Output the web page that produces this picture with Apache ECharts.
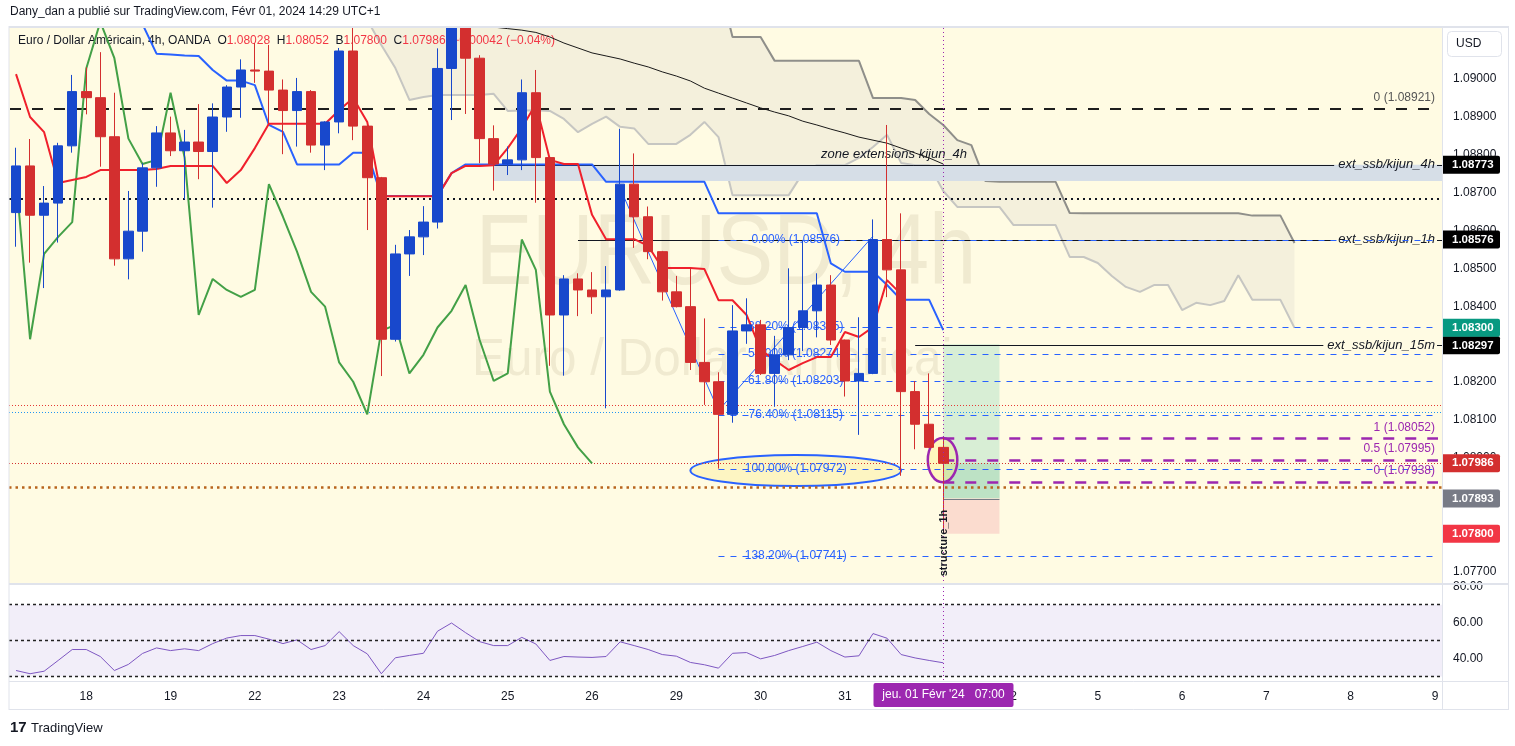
<!DOCTYPE html>
<html><head><meta charset="utf-8">
<script src="https://cdn.jsdelivr.net/npm/echarts@6/dist/echarts.min.js"></script>
<style>html,body{margin:0;padding:0;background:#ffffff;}#c{width:1515px;height:746px;}</style>
</head><body><div id="c"></div>
<script>
// ---------------- DATA ----------------
const barCount = 102;
const dayLabels = ['18','19','22','23','24','25','26','29','30','31','Févr','2','5','6','7','8','9'];
const dayStarts = [5,11,17,23,29,35,41,47,53,59,65,71,77,83,89,95,101];

const opens = [1.08647,1.08770,1.08640,1.08672,1.08823,1.08966,1.08950,1.08847,1.08525,1.08598,
 1.08765,1.08857,1.08810,1.08833,1.08808,1.08899,1.08978,1.09023,1.09020,1.08970,
 1.08916,1.08966,1.08825,1.08886,1.09073,1.08875,1.08739,1.08313,1.08538,1.08583,
 1.08622,1.09027,1.09150,1.09054,1.08842,1.08775,1.08786,1.08963,1.08792,1.08377,
 1.08472,1.08443,1.08425,1.08443,1.08722,1.08636,1.08544,1.08438,1.08399,1.08252,
 1.08201,1.08115,1.08335,1.08351,1.08223,1.08272,1.08344,1.08388,1.08456,1.08311,
 1.08203,1.08223,1.08576,1.08496,1.08175,1.08089,1.08028];
const closes = [1.08770,1.08640,1.08672,1.08823,1.08966,1.08950,1.08847,1.08525,1.08598,1.08765,
 1.08857,1.08810,1.08833,1.08808,1.08899,1.08978,1.09023,1.09020,1.08970,1.08916,
 1.08966,1.08825,1.08886,1.09073,1.08875,1.08739,1.08313,1.08538,1.08583,1.08622,
 1.09027,1.09150,1.09054,1.08842,1.08775,1.08786,1.08963,1.08792,1.08377,1.08472,
 1.08443,1.08425,1.08443,1.08722,1.08636,1.08544,1.08438,1.08399,1.08252,1.08201,
 1.08115,1.08335,1.08351,1.08223,1.08272,1.08344,1.08388,1.08456,1.08311,1.08203,
 1.08223,1.08576,1.08496,1.08175,1.08089,1.08028,1.07986];
const highs = [1.08818,1.08841,1.08717,1.08831,1.09010,1.09030,1.09070,1.08963,1.08704,1.08777,
 1.08875,1.08900,1.08865,1.08933,1.08935,1.08983,1.09051,1.09094,1.09089,1.08998,
 1.09002,1.08970,1.08888,1.09081,1.09140,1.08878,1.08741,1.08562,1.08601,1.08664,
 1.09080,1.09168,1.09168,1.09062,1.08877,1.08821,1.08998,1.09023,1.08793,1.08482,
 1.08487,1.08490,1.08506,1.08868,1.08803,1.08663,1.08546,1.08480,1.08500,1.08368,
 1.08226,1.08403,1.08421,1.08364,1.08322,1.08500,1.08575,1.08487,1.08482,1.08312,
 1.08371,1.08629,1.08878,1.08645,1.08203,1.08223,1.08052];
const lows = [1.08557,1.08515,1.08448,1.08568,1.08805,1.08906,1.08768,1.08507,1.08471,1.08544,
 1.08715,1.08796,1.08682,1.08735,1.08660,1.08860,1.08897,1.08989,1.08883,1.08801,
 1.08821,1.08805,1.08759,1.08856,1.08838,1.08601,1.08216,1.08307,1.08480,1.08535,
 1.08605,1.08891,1.08907,1.08777,1.08705,1.08746,1.08759,1.08673,1.08243,1.08217,
 1.08374,1.08380,1.08131,1.08441,1.08554,1.08524,1.08415,1.08397,1.08232,1.08140,
 1.07972,1.08093,1.08301,1.08219,1.08135,1.08258,1.08282,1.08318,1.08298,1.08162,
 1.08061,1.08221,1.08424,1.07953,1.08023,1.08026,1.07800];

// Ichimoku lines
const tenkan = [1.09012,1.08899,1.08859,1.08725,1.08733,1.08741,1.08759,1.08759,1.08759,1.08759,
 1.08762,1.08770,1.08770,1.08770,1.08770,1.08725,1.08759,1.08817,1.08881,1.08881,
 1.08881,1.08881,1.08881,1.08917,1.08949,1.08886,1.08690,1.08690,1.08690,1.08690,
 1.08690,1.08751,1.08770,1.08770,1.08772,1.08817,1.08870,1.08933,1.08786,1.08775,
 1.08775,1.08641,1.08577,1.08577,1.08577,1.08559,1.08501,1.08501,1.08501,1.08498,
 1.08416,1.08416,1.08377,1.08285,1.08258,1.08232,1.08250,1.08266,1.08266,1.08332,
 1.08319,1.08345,1.08469,1.08432];
const kijunStart = 8;
const kijun = [1.09260,1.09144,1.09066,1.09064,1.09061,1.09060,1.09023,1.08995,1.08995,1.08983,
 1.08878,1.08860,1.08774,1.08774,1.08774,1.08774,1.08805,1.08805,1.08691,1.08691,
 1.08691,1.08691,1.08691,1.08751,1.08774,1.08774,1.08774,1.08774,1.08774,1.08774,
 1.08774,1.08774,1.08774,1.08774,1.08728,1.08728,1.08728,1.08728,1.08728,1.08728,
 1.08728,1.08728,1.08645,1.08645,1.08645,1.08645,1.08645,1.08645,1.08645,1.08645,
 1.08513,1.08491,1.08491,1.08491,1.08456,1.08417,1.08417,1.08417,1.08337];
const chikou = [1.08739,1.08313,1.08538,1.08583,1.08622,1.09027,1.09150,1.09054,1.08842,1.08775,
 1.08786,1.08963,1.08792,1.08377,1.08472,1.08443,1.08425,1.08443,1.08722,1.08636,
 1.08544,1.08438,1.08399,1.08252,1.08201,1.08115,1.08335,1.08351,1.08223,1.08272,
 1.08344,1.08388,1.08456,1.08311,1.08203,1.08223,1.08576,1.08496,1.08175,1.08089,
 1.08028,1.07986];
const senkouStart = 25;
const senkouA = [1.09155,1.09089,1.09028,1.08944,1.08952,1.08957,1.08957,1.08957,1.08957,1.08960,
 1.08915,1.08916,1.08917,1.08915,1.08894,1.08859,1.08881,1.08900,1.08873,1.08869,
 1.08828,1.08828,1.08828,1.08852,1.08886,1.08846,1.08693,1.08693,1.08693,1.08693,
 1.08693,1.08751,1.08772,1.08772,1.08772,1.08791,1.08820,1.08852,1.08778,1.08772,
 1.08772,1.08704,1.08662,1.08662,1.08662,1.08662,1.08614,1.08614,1.08614,1.08614,
 1.08530,1.08530,1.08514,1.08480,1.08451,1.08438,1.08456,1.08456,1.08390,1.08409,
 1.08403,1.08414,1.08482,1.08417,1.08417,1.08417,1.08343];
const senkouB = [1.09290,1.09290,1.09290,1.09290,1.09290,1.09290,1.09290,1.09290,1.09290,1.09290,
 1.09290,1.09290,1.09290,1.09290,1.09290,1.09290,1.09290,1.09290,1.09290,1.09290,
 1.09290,1.09290,1.09290,1.09290,1.09290,1.09260,1.09110,1.09110,1.09110,1.09047,
 1.09047,1.09047,1.09047,1.09047,1.09047,1.09047,1.08949,1.08949,1.08949,1.08944,
 1.08907,1.08878,1.08838,1.08825,1.08730,1.08728,1.08728,1.08728,1.08728,1.08728,
 1.08646,1.08645,1.08645,1.08645,1.08645,1.08645,1.08645,1.08645,1.08645,1.08645,
 1.08645,1.08645,1.08645,1.08639,1.08639,1.08639,1.08567];
const maStart = 32;
const movingAvg = [1.09155,1.09144,1.09136,1.09132,1.09128,1.09122,1.09110,1.09094,1.09081,1.09068,
 1.09060,1.09052,1.09041,1.09031,1.09018,1.09007,1.08994,1.08975,1.08962,1.08949,
 1.08936,1.08923,1.08912,1.08902,1.08888,1.08878,1.08867,1.08857,1.08846,1.08838,
 1.08830,1.08817,1.08804,1.08791,1.08775];
const rsi = [33.3,31.5,32.9,38.9,45.0,45.0,41.1,33.3,36.7,42.8,
 45.9,44.4,45.4,44.4,48.3,51.4,52.8,52.8,50.8,48.3,
 50.4,45.0,47.2,55.0,47.2,42.6,31.5,40.4,41.7,42.9,
 55.2,59.8,54.4,49.4,47.2,47.2,51.8,48.1,38.9,41.1,
 40.8,40.6,41.1,49.3,47.2,45.0,42.2,41.3,37.8,36.5,
 34.6,42.9,43.3,39.8,41.7,44.4,46.7,49.1,44.4,40.8,
 41.5,53.9,51.3,42.2,40.3,38.9,37.6];
const rsiLevels = [70, 50, 30];
const rsiTicks = [40, 60, 80];
const priceTicks = [1.077,1.078,1.079,1.080,1.081,1.082,1.083,1.084,1.085,1.086,1.087,1.088,1.089,1.090];

// Drawings (in data coordinates: bar index / price)
const level0 = 1.08921;
const dottedLevel = 1.08683;
const ext4h = 1.08773, zoneLow = 1.08730, zoneStartBar = 34;
const ext1h = 1.08576, ext1hStartBar = 40;
const ext15m = 1.08297, ext15mStartBar = 64;
const redDotted = 1.08139, blueDotted = 1.08122, brownDotted = 1.07924;
const fibHigh = 1.08576, fibLow = 1.07972, fibBars = [50, 61];
const fibLevels = [0, 0.382, 0.5, 0.618, 0.764, 1, 1.382];
const fibPath = [[43, 1.08711], [50, 1.08125], [61, 1.08585]];
const pfibHigh = 1.08052, pfibLow = 1.07938, pfibStartBar = 66;
const pfibLevels = [1, 0.5, 0];
const posBars = [66, 70], posTarget = 1.08300, posEntry = 1.07893, posStop = 1.07800;
const bigEllipse = {bars: [48, 63], prices: [1.08008, 1.07926]};
const smallEllipse = {bars: [64.9, 67.0], prices: [1.08053, 1.07936]};
const zoneLabelBar = 62.5;
const currentBar = 66;
const tagPrices = [1.08773, 1.08576, 1.08297, 1.08300, 1.07986, 1.07893, 1.07800];

// ---------------- STYLE / BUILD ----------------
const FONT = '"Liberation Sans", Arial, sans-serif';
const TAG_COLORS = ['#000000','#000000','#000000','#089981','#d32f2f','#787b86','#f23645'];
const yMin = 1.076704, yMax = 1.0913367;
const lastPrice = closes[closes.length - 1];

const cats = [];
for (let i = 0; i < barCount; i++) cats.push('');
dayStarts.forEach((b, k) => { cats[b] = dayLabels[k]; });

function pad(arr, start) {
  const out = [];
  for (let i = 0; i < barCount; i++) out.push(null);
  arr.forEach((v, i) => { out[start + i] = v; });
  return out;
}
const kumoDiff = senkouA.map((a, i) => senkouB[i] - a);
const candleData = opens.map((o, i) => [o, closes[i], lows[i], highs[i]]);

const mctx = document.createElement('canvas').getContext('2d');
function tw(t, font) { mctx.font = font; return mctx.measureText(t).width; }

function drawingsRender(params, api) {
  const cs = params.coordSys;
  const L = cs.x, R = cs.x + cs.width;
  const Y = p => api.coord([0, p])[1];
  const X = i => api.coord([i, 1.08])[0];
  const xAt = f => { const a = Math.floor(f); return X(a) + (f - a) * (X(a + 1) - X(a)); };
  const k = [];
  const line = (x1, y1, x2, y2, stroke, lw, dash) => k.push({type: 'line', shape: {x1, y1, x2, y2}, style: {stroke, lineWidth: lw, lineDash: dash || null, fill: null}});
  const hl = (x1, x2, p, stroke, lw, dash) => { const y = Math.round(Y(p)) + ((lw % 2) ? 0.5 : 0); line(x1, y, x2, y, stroke, lw, dash); };
  const txt = (t, x, y, st) => k.push({type: 'text', style: Object.assign({text: t, x, y, fill: '#131722', font: '12px ' + FONT, align: 'left', verticalAlign: 'middle'}, st)});
  const rect = (x1, y1, x2, y2, fill) => k.push({type: 'rect', shape: {x: Math.min(x1, x2), y: Math.min(y1, y2), width: Math.abs(x2 - x1), height: Math.abs(y2 - y1)}, style: {fill}});

  // zone
  rect(X(zoneStartBar), Y(ext4h), R, Y(zoneLow), '#d6dee7');
  // position tool
  rect(X(posBars[0]), Y(posTarget), X(posBars[1]), Y(posEntry), '#d8eed5');
  rect(X(posBars[0]), Y(lastPrice), X(posBars[1]), Y(posEntry), '#bde2c5');
  rect(X(posBars[0]), Y(posEntry), X(posBars[1]), Y(posStop), '#fbdccf');
  hl(X(posBars[0]), X(posBars[1]), posEntry, '#787b86', 1);
  // big ellipse
  {
    const x1 = X(bigEllipse.bars[0]), x2 = X(bigEllipse.bars[1]);
    const y1 = Y(bigEllipse.prices[0]), y2 = Y(bigEllipse.prices[1]);
    k.push({type: 'ellipse', shape: {cx: (x1 + x2) / 2, cy: (y1 + y2) / 2, rx: (x2 - x1) / 2, ry: (y2 - y1) / 2}, style: {fill: '#fdf5c2', stroke: '#2962ff', lineWidth: 2}});
  }
  // small ellipse
  {
    const x1 = xAt(smallEllipse.bars[0]), x2 = xAt(smallEllipse.bars[1]);
    const y1 = Y(smallEllipse.prices[0]), y2 = Y(smallEllipse.prices[1]);
    k.push({type: 'ellipse', shape: {cx: (x1 + x2) / 2, cy: (y1 + y2) / 2, rx: (x2 - x1) / 2, ry: (y2 - y1) / 2}, style: {fill: 'rgba(255,241,118,0.35)', stroke: '#9c27b0', lineWidth: 2.5}});
  }
  // full-width dotted lines
  hl(L, R, dottedLevel, '#131722', 2, [2, 4]);
  hl(L, R, redDotted, '#e53935', 1, [1, 2]);
  hl(L, R, blueDotted, '#2196f3', 1, [1, 2]);
  hl(L, R, brownDotted, '#b8641c', 2.5, [2.5, 4]);
  hl(L, R, lastPrice, '#d32f2f', 1, [1, 2]);
  // dashed black level
  hl(L + 1, R - 6, level0, '#1e1e1e', 2, [11, 11]);
  txt('0 (' + level0.toFixed(5) + ')', R - 7, Y(level0) - 11, {align: 'right', fill: '#555555'});
  // labelled extension lines
  const itFont = 'italic 13px ' + FONT;
  const labeled = (startBar, p, label) => {
    const w = tw(label, itFont);
    const tx2 = R - 7, tx1 = tx2 - w;
    hl(X(startBar), tx1 - 4, p, '#131722', 1);
    hl(tx2 + 2, R, p, '#131722', 1);
    txt(label, tx2, Y(p), {align: 'right', font: itFont});
  };
  labeled(zoneStartBar, ext4h, 'ext_ssb/kijun_4h');
  labeled(ext1hStartBar, ext1h, 'ext_ssb/kijun_1h');
  labeled(ext15mStartBar, ext15m, 'ext_ssb/kijun_15m');
  txt('zone extensions kijun_4h', xAt(zoneLabelBar), Y(ext4h) - 10, {align: 'center', font: itFont});
  // fib retracement
  const fx1 = X(fibBars[0]), fmid = (X(fibBars[0]) + X(fibBars[1])) / 2;
  fibLevels.forEach(l => {
    const p = fibHigh - l * (fibHigh - fibLow);
    hl(fx1, R - 4, p, '#2962ff', 1, [6, 6]);
  });
  k.push({type: 'polyline', shape: {points: fibPath.map(q => [X(q[0]), Y(q[1])])}, style: {stroke: '#2962ff', lineWidth: 1, fill: null}});
  fibLevels.forEach(l => {
    const p = fibHigh - l * (fibHigh - fibLow);
    txt((l * 100).toFixed(2) + '% (' + p.toFixed(5) + ')', fmid, Y(p), {align: 'center', fill: '#2962ff'});
  });
  // purple fib
  pfibLevels.forEach(l => {
    const p = pfibLow + l * (pfibHigh - pfibLow);
    hl(X(pfibStartBar), R - 4, p, '#9c27b0', 2.5, [11, 11]);
    txt(l + ' (' + p.toFixed(5) + ')', R - 7, Y(p) - 11, {align: 'right', fill: '#9c27b0'});
  });
  return {type: 'group', children: k};
}

function overlayRender(params, api) {
  const cs = params.coordSys;
  const R = cs.x + cs.width, T = cs.y, B = cs.y + cs.height;
  const Y = p => api.coord([0, p])[1];
  const X = i => api.coord([i, 1.08])[0];
  const k = [];
  const cx = Math.round(X(currentBar)) + 0.5;
  k.push({type: 'line', shape: {x1: cx, y1: T, x2: cx, y2: B + 2}, style: {stroke: '#9c27b0', lineWidth: 1, lineDash: [1, 3]}});
  k.push({type: 'text', x: cx, y: B - 40, rotation: Math.PI / 2, style: {text: 'structure_1h', x: 0, y: 0, align: 'center', verticalAlign: 'middle', fill: '#131722', font: 'bold 11px ' + FONT}});
  const placed = [];
  tagPrices.forEach((p, i) => {
    let y = Y(p);
    placed.forEach(q => { if (Math.abs(y - q) < 17.5) y = q - 17.6; });
    placed.push(y);
    k.push({type: 'rect', shape: {x: R + 1, y: y - 9, width: 57, height: 18, r: [0, 2, 2, 0]}, style: {fill: TAG_COLORS[i]}});
    k.push({type: 'text', style: {text: p.toFixed(5), x: R + 10, y: y, align: 'left', verticalAlign: 'middle', fill: '#ffffff', font: 'bold 11.5px ' + FONT}});
  });
  return {type: 'group', children: k};
}

function rsiOverlayRender(params, api) {
  const cs = params.coordSys;
  const T = cs.y, B = cs.y + cs.height;
  const X = i => api.coord([i, 50])[0];
  const cx = Math.round(X(currentBar)) + 0.5;
  return {type: 'group', children: [
    {type: 'line', shape: {x1: cx, y1: T - 2, x2: cx, y2: B}, style: {stroke: '#9c27b0', lineWidth: 1, lineDash: [1, 3]}},
    {type: 'rect', shape: {x: cx - 70, y: B + 3, width: 140, height: 24, r: 2}, style: {fill: '#9c27b0'}},
    {type: 'text', style: {text: "jeu. 01 Févr '24   07:00", x: cx, y: B + 15, align: 'center', verticalAlign: 'middle', fill: '#ffffff', font: '12px ' + FONT}}
  ]};
}

const lineBase = {type: 'line', xAxisIndex: 0, yAxisIndex: 0, showSymbol: false, symbol: 'none', silent: true, clip: true, connectNulls: false};

const chart = echarts.init(document.getElementById('c'), null, {renderer: 'canvas'});
chart.setOption({
  animation: false,
  backgroundColor: '#ffffff',
  grid: [
    {left: 9, top: 28, width: 1433, height: 555, show: true, backgroundColor: '#fffbe3', borderWidth: 0, z: 0},
    {left: 9, top: 585, width: 1433, height: 95, show: true, backgroundColor: '#ffffff', borderWidth: 0, z: 0}
  ],
  xAxis: [
    {type: 'category', gridIndex: 0, data: cats, boundaryGap: true, axisLine: {show: false}, axisTick: {show: false}, axisLabel: {show: false}, splitLine: {show: false}},
    {type: 'category', gridIndex: 1, data: cats, boundaryGap: true, axisLine: {show: false}, axisTick: {show: false}, splitLine: {show: false},
     axisLabel: {show: true, interval: 0, margin: 11, color: '#131722', fontSize: 12, fontFamily: FONT}}
  ],
  yAxis: [
    {type: 'value', gridIndex: 0, position: 'right', min: yMin, max: yMax, scale: true, axisLine: {show: false}, axisTick: {show: false}, splitLine: {show: false},
     axisLabel: {margin: 11, color: '#131722', fontSize: 12, fontFamily: FONT, formatter: v => v.toFixed(5), customValues: priceTicks}},
    {type: 'value', gridIndex: 1, position: 'right', min: 28, max: 81, axisLine: {show: false}, axisTick: {show: false}, splitLine: {show: false},
     axisLabel: {margin: 11, color: '#131722', fontSize: 12, fontFamily: FONT, formatter: v => v.toFixed(2), customValues: rsiTicks}}
  ],
  series: [
    Object.assign({}, lineBase, {name: 'kumoBase', data: pad(senkouA, senkouStart), stack: 'kumo', lineStyle: {width: 0, opacity: 0}, z: 2}),
    Object.assign({}, lineBase, {name: 'kumoFill', data: pad(kumoDiff, senkouStart), stack: 'kumo', lineStyle: {width: 0, opacity: 0}, areaStyle: {color: '#f4f0dc', opacity: 1}, z: 2}),
    Object.assign({}, lineBase, {name: 'senkouA', data: pad(senkouA, senkouStart), lineStyle: {color: '#c6c6c2', width: 2}, z: 2.5}),
    Object.assign({}, lineBase, {name: 'senkouB', data: pad(senkouB, senkouStart), lineStyle: {color: '#8f8f8a', width: 2}, z: 2.5}),
    {type: 'custom', name: 'drawings', xAxisIndex: 0, yAxisIndex: 0, data: [[0, 1.08]], renderItem: drawingsRender, silent: true, z: 3},
    Object.assign({}, lineBase, {name: 'ma', data: pad(movingAvg, maStart), lineStyle: {color: '#1a1a1a', width: 1}, z: 4}),
    Object.assign({}, lineBase, {name: 'chikou', data: pad(chikou, 0), lineStyle: {color: '#43a047', width: 2}, z: 4}),
    Object.assign({}, lineBase, {name: 'kijun', data: pad(kijun, kijunStart), lineStyle: {color: '#2962ff', width: 2}, z: 4}),
    Object.assign({}, lineBase, {name: 'tenkan', data: pad(tenkan, 0), lineStyle: {color: '#f0202c', width: 2}, z: 4}),
    {type: 'candlestick', name: 'EURUSD', xAxisIndex: 0, yAxisIndex: 0, data: candleData, barWidth: 10, clip: true, silent: true, z: 5,
     itemStyle: {color: '#1848cc', color0: '#d32f2f', borderColor: '#1848cc', borderColor0: '#d32f2f', borderWidth: 1}},
    {type: 'custom', name: 'overlay', xAxisIndex: 0, yAxisIndex: 0, data: [[0, 1.08]], renderItem: overlayRender, silent: true, clip: false, z: 6},
    {type: 'line', name: 'RSI', xAxisIndex: 1, yAxisIndex: 1, data: pad(rsi, 0), showSymbol: false, symbol: 'none', silent: true,
     lineStyle: {color: '#7e57c2', width: 1}, z: 3,
     markArea: {silent: true, itemStyle: {color: 'rgba(126,87,194,0.1)'}, data: [[{yAxis: 30}, {yAxis: 70}]]},
     markLine: {silent: true, symbol: 'none', label: {show: false}, lineStyle: {color: '#222222', type: [3, 3], width: 1.3}, data: rsiLevels.map(v => ({yAxis: v}))}},
    {type: 'custom', name: 'rsiOverlay', xAxisIndex: 1, yAxisIndex: 1, data: [[0, 50]], renderItem: rsiOverlayRender, silent: true, clip: false, z: 6}
  ],
  graphic: {elements: [
    {type: 'text', x: 726, y: 256, z: 1, scaleX: 0.85, style: {text: 'EURUSD, 4h', x: 0, y: 0, align: 'center', verticalAlign: 'middle', fill: '#f0ead0', font: '100px ' + FONT}},
    {type: 'text', x: 726, y: 361, z: 1, scaleX: 0.95, style: {text: 'Euro / Dollar Américain', x: 0, y: 0, align: 'center', verticalAlign: 'middle', fill: '#f0ead0', font: '52px ' + FONT}},
    {type: 'rect', z: 9, shape: {x: 0, y: 0, width: 1515, height: 26}, style: {fill: '#ffffff'}},
    {type: 'text', x: 10, y: 12, z: 10, style: {text: 'Dany_dan a publié sur TradingView.com, Févr 01, 2024 14:29 UTC+1', fill: '#131722', font: '12px ' + FONT, verticalAlign: 'middle'}},
    {type: 'text', x: 18, y: 41, z: 3.5, style: {
      text: '{t|Euro / Dollar Américain, 4h, OANDA}  {t|O}{v|1.08028}  {t|H}{v|1.08052}  {t|B}{v|1.07800}  {t|C}{v|1.07986}  {v|−0.00042 (−0.04%)}',
      verticalAlign: 'middle', font: '12px ' + FONT, fill: '#131722',
      rich: {t: {fill: '#131722', font: '12px ' + FONT}, v: {fill: '#f23645', font: '12px ' + FONT}}}},
    {type: 'line', z: 10, shape: {x1: 9, y1: 27, x2: 1508, y2: 27}, style: {stroke: '#e0e3eb', lineWidth: 2}},
    {type: 'line', z: 10, shape: {x1: 9, y1: 584, x2: 1508, y2: 584}, style: {stroke: '#e0e3eb', lineWidth: 2}},
    {type: 'line', z: 10, shape: {x1: 9, y1: 681.5, x2: 1508, y2: 681.5}, style: {stroke: '#e0e3eb', lineWidth: 1}},
    {type: 'line', z: 10, shape: {x1: 9, y1: 709.5, x2: 1508, y2: 709.5}, style: {stroke: '#e0e3eb', lineWidth: 1}},
    {type: 'line', z: 10, shape: {x1: 9, y1: 26, x2: 9, y2: 710}, style: {stroke: '#e0e3eb', lineWidth: 1}},
    {type: 'line', z: 10, shape: {x1: 1508.5, y1: 26, x2: 1508.5, y2: 710}, style: {stroke: '#e0e3eb', lineWidth: 1}},
    {type: 'line', z: 10, shape: {x1: 1442.5, y1: 26, x2: 1442.5, y2: 710}, style: {stroke: '#e0e3eb', lineWidth: 1}},
    {type: 'rect', z: 10, shape: {x: 1447.5, y: 31.5, width: 54, height: 25, r: 4}, style: {fill: '#ffffff', stroke: '#e0e3eb', lineWidth: 1}},
    {type: 'text', z: 11, x: 1456, y: 44, style: {text: 'USD', fill: '#131722', font: '12px ' + FONT, verticalAlign: 'middle'}},
    {type: 'text', z: 10, x: 10, y: 728, style: {text: '17', fill: '#131722', font: 'bold 15px ' + FONT, verticalAlign: 'middle'}},
    {type: 'text', z: 10, x: 31, y: 728, style: {text: 'TradingView', fill: '#131722', font: '13px ' + FONT, verticalAlign: 'middle'}}
  ]}
});
</script>
</body></html>
